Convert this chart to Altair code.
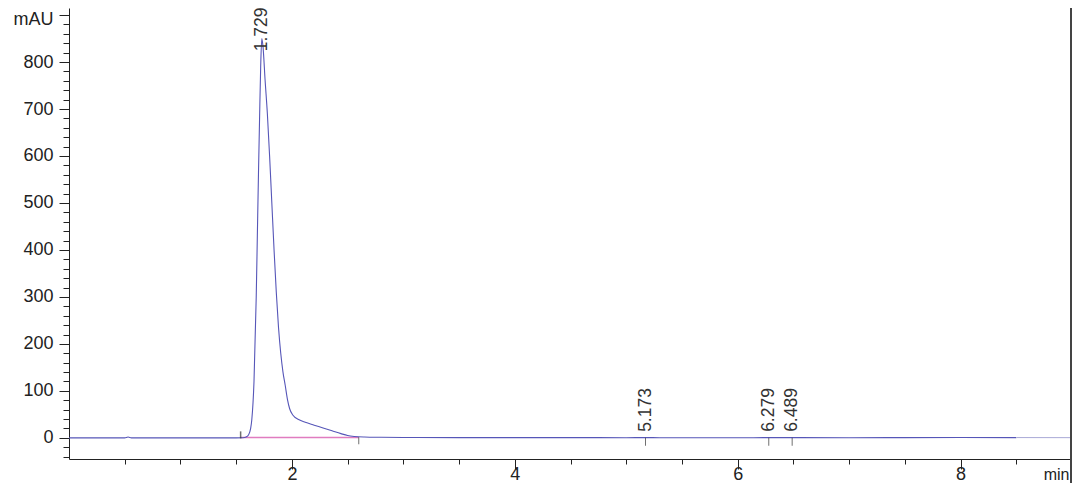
import altair as alt
import pandas as pd

# ---- chromatogram trace (min, mAU) ----
time = [0.00, 0.50, 0.53, 0.56, 1.00, 1.50, 1.56, 1.59, 1.61, 1.63, 1.64, 1.66, 1.68,
        1.69, 1.70, 1.71, 1.72, 1.73, 1.74, 1.76, 1.78, 1.80, 1.82, 1.84, 1.86, 1.88,
        1.90, 1.92, 1.94, 1.96, 1.98, 2.01, 2.06, 2.12, 2.20, 2.28, 2.36, 2.44, 2.50,
        2.56, 2.65, 2.80, 3.00, 3.50, 4.00, 4.50, 5.00, 5.17, 5.30, 6.00, 6.28, 6.49,
        7.00, 7.50, 8.00, 8.50]
signal = [0.0, 0.0, 1.8, 0.0, 0.0, 0.0, 0.3, 2.0, 6.0, 20.0, 38.0, 120.0, 300.0,
          430.0, 560.0, 680.0, 790.0, 850.0, 835.0, 760.0, 690.0, 600.0, 500.0, 400.0, 310.0, 235.0,
          180.0, 140.0, 112.0, 82.0, 62.0, 48.0, 39.0, 33.0, 27.0, 21.0, 15.0, 9.0, 5.0,
          3.0, 1.8, 1.2, 0.9, 0.6, 0.4, 0.5, 0.3, 0.6, 0.3, 0.2, 0.5, 0.5,
          0.3, 0.6, 0.8, 0.6]

tail_time = [8.50, 9.00]
tail_signal = [0.6, 0.4]

# ---- peak annotations ----
peak_times = [1.729, 5.173, 6.279, 6.489]
peak_labels = ["1.729", "5.173", "6.279", "6.489"]
label_heights = [810, 0, 0, 0]
minor_peak_times = [5.173, 6.279, 6.489]

# ---- integration baseline ----
baseline_start = [1.54]
baseline_end = [2.60]
baseline_level = [0.5]

# ---- axes ----
x_domain = [0, 9]
y_domain = [-45, 915]
x_minor_ticks = [0.5, 1.0, 1.5, 2.0, 2.5, 3.0, 3.5, 4.0, 4.5, 5.0, 5.5, 6.0, 6.5, 7.0, 7.5, 8.0, 8.5]
x_major_ticks = [2, 4, 6, 8]
y_minor_ticks = [-40, -20, 0, 20, 40, 60, 80, 100, 120, 140, 160, 180, 200, 220, 240, 260, 280,
                 300, 320, 340, 360, 380, 400, 420, 440, 460, 480, 500, 520, 540, 560, 580,
                 600, 620, 640, 660, 680, 700, 720, 740, 760, 780, 800, 820, 840, 860, 880, 900]
y_major_ticks = [0, 100, 200, 300, 400, 500, 600, 700, 800, 900]

FONT = "Liberation Sans"
AX = "#222222"

trace_df = pd.DataFrame({"t": time, "mAU": signal})
tail_df = pd.DataFrame({"t": tail_time, "mAU": tail_signal})
peaks_df = pd.DataFrame({"t": peak_times, "label": peak_labels, "h": label_heights})
minor_df = pd.DataFrame({"t": minor_peak_times, "v": [0] * len(minor_peak_times)})
base_df = pd.DataFrame({"t": baseline_start, "t2": baseline_end, "v": baseline_level})
bs_df = pd.DataFrame({"t": baseline_start, "v": [0]})
be_df = pd.DataFrame({"t": baseline_end, "v": [0]})

xs = alt.Scale(domain=x_domain, nice=False, zero=False)
ys = alt.Scale(domain=y_domain, nice=False, zero=False)

minor_x_axis = alt.Axis(values=x_minor_ticks, tickSize=5, labels=False, title=None, grid=False,
                        orient="bottom", domainColor=AX, tickColor=AX, domainWidth=1, tickWidth=1)
minor_y_axis = alt.Axis(values=y_minor_ticks, tickSize=6, labels=False, title=None, grid=False,
                        orient="left", domainColor=AX, tickColor=AX, domainWidth=1, tickWidth=1)

major_x_axis = alt.Axis(values=x_major_ticks, tickSize=10, grid=False, orient="bottom", domain=False,
                        tickColor=AX, tickWidth=1, labelFont=FONT, labelFontSize=18, labelColor=AX,
                        labelPadding=-4, labelFlush=False, labelOverlap=False,
                        title="min", titleFont=FONT, titleFontSize=16, titleFontWeight="normal",
                        titleColor=AX, titleAnchor="end", titleAlign="right", titleX=1000, titleY=20,
                        titleBaseline="alphabetic")
major_y_axis = alt.Axis(values=y_major_ticks, tickSize=10, grid=False, orient="left", domain=False,
                        tickColor=AX, tickWidth=1, labelFont=FONT, labelFontSize=18, labelColor=AX,
                        labelPadding=6, labelOverlap=False, labelFlush=False, format="d",
                        labelOffset={"condition": {"test": "datum.value == 900", "value": 4}, "value": 0},
                        labelExpr="datum.value == 900 ? 'mAU' : datum.label", title=None)

trace = alt.Chart(trace_df).mark_line(color="#5656b8", strokeWidth=1.1, interpolate="monotone").encode(
    x=alt.X("t:Q", scale=xs, axis=minor_x_axis),
    y=alt.Y("mAU:Q", scale=ys, axis=minor_y_axis),
)

tail = alt.Chart(tail_df).mark_line(color="#a9a9d6", strokeWidth=1).encode(
    x=alt.X("t:Q", scale=xs, axis=None),
    y=alt.Y("mAU:Q", scale=ys, axis=None),
)

baseline = alt.Chart(base_df).mark_rule(color="#e07cc0", strokeWidth=1.5).encode(
    x=alt.X("t:Q", scale=xs, axis=None),
    x2="t2:Q",
    y=alt.Y("v:Q", scale=ys, axis=None),
)

bstart = alt.Chart(bs_df).mark_tick(color="#333333", orient="vertical", size=7, thickness=1.5,
                                    yOffset=-3).encode(
    x=alt.X("t:Q", scale=xs, axis=None),
    y=alt.Y("v:Q", scale=ys, axis=None),
)
bend = alt.Chart(be_df).mark_tick(color="#333333", orient="vertical", size=7, thickness=1,
                                  yOffset=3).encode(
    x=alt.X("t:Q", scale=xs, axis=None),
    y=alt.Y("v:Q", scale=ys, axis=None),
)
pticks = alt.Chart(minor_df).mark_tick(color="#333333", orient="vertical", size=8, thickness=1,
                                       yOffset=4).encode(
    x=alt.X("t:Q", scale=xs, axis=None),
    y=alt.Y("v:Q", scale=ys, axis=None),
)

labels = alt.Chart(peaks_df).mark_text(angle=270, align="left", baseline="middle", dx=6,
                                       font=FONT, fontSize=17.5, color="#333333").encode(
    x=alt.X("t:Q", scale=xs, axis=major_x_axis),
    y=alt.Y("h:Q", scale=ys, axis=major_y_axis),
    text="label:N",
)

frame_right = alt.Chart(trace_df).mark_rule(color="#444444", strokeWidth=2).encode(
    x=alt.value(1002), y=alt.value(-8), y2=alt.value(480)
)

chart = alt.layer(
    baseline, trace, tail, bstart, bend, pticks, labels, frame_right
).resolve_scale(x="shared", y="shared").resolve_axis(x="independent", y="independent").properties(
    width=1003, height=451,
    autosize=alt.AutoSizeParams(type="none"),
    padding={"left": 61, "top": 0, "right": 0, "bottom": 24},
).configure_view(stroke=None)

chart.save("out.html", embed_options={"renderer": "svg", "actions": False})
